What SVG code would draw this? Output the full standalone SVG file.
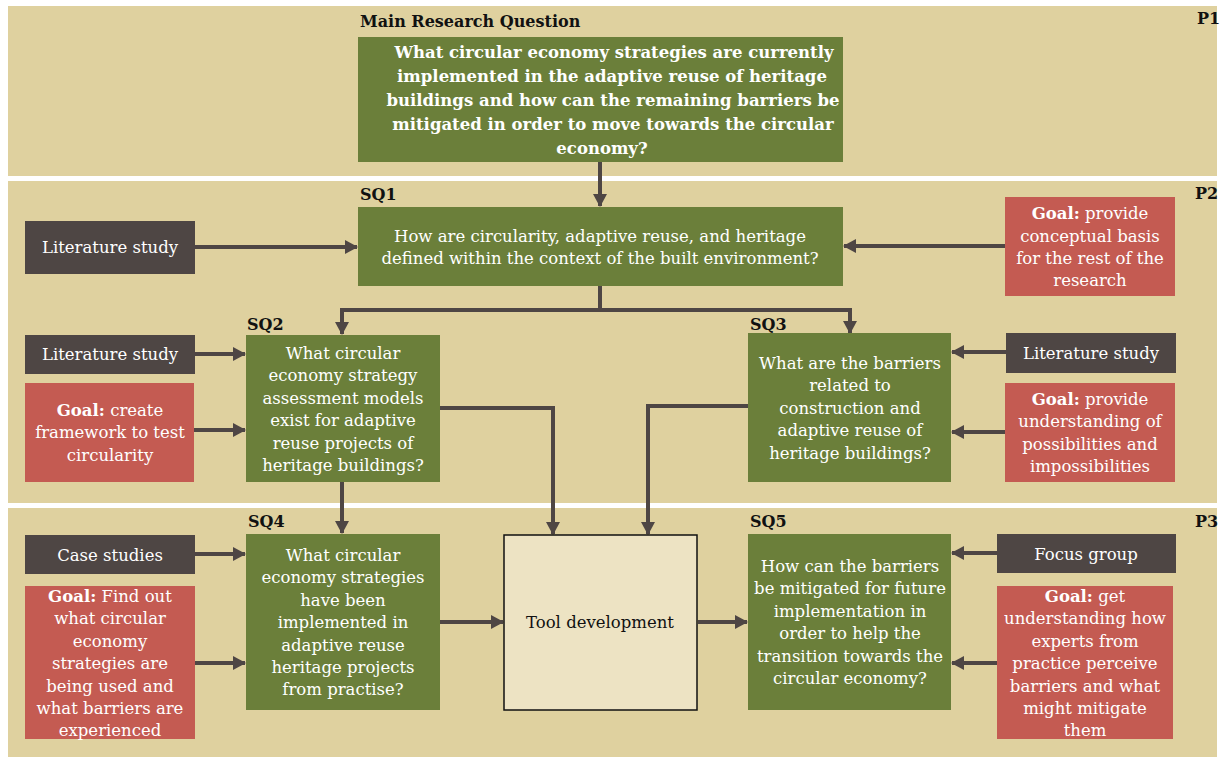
<svg xmlns="http://www.w3.org/2000/svg" width="1221" height="758" viewBox="0 0 1221 758">
  <defs>
    <marker id="arrow" markerUnits="userSpaceOnUse" markerWidth="14" markerHeight="14" refX="12" refY="7" orient="auto">
      <path d="M0,0 L13,7 L0,14 Z" fill="#4e4644"/>
    </marker>
  </defs>
  <style>
    text { font-family: "DejaVu Serif", "Liberation Serif", serif; }
    .panel { fill: #dfd19f; }
    .green { fill: #6b7f3a; }
    .dark { fill: #4e4644; }
    .red { fill: #c45b52; }
    .tool { fill: #ede3c3; stroke: #111; stroke-width: 1.5; }
    .wt { fill: #ffffff; font-size: 16.5px; text-anchor: middle; }
    .bt { fill: #ffffff; font-size: 16.5px; font-weight: bold; text-anchor: middle; }
    .lbl { fill: #111; font-size: 16px; font-weight: bold; }
    .blk { fill: #111; font-size: 16.5px; text-anchor: middle; }
    .b { font-weight: bold; }
    .conn { fill: none; stroke: #4e4644; stroke-width: 4; }
    .conn.a { marker-end: url(#arrow); }
  </style>

  <rect width="1221" height="758" fill="#ffffff"/>

  <!-- phase bands -->
  <g id="bands">
    <rect class="panel" x="8" y="6" width="1209" height="170"/>
    <rect class="panel" x="8" y="181" width="1209" height="322"/>
    <rect class="panel" x="8" y="508" width="1209" height="249"/>
    <text class="lbl" x="1197" y="24">P1</text>
    <text class="lbl" x="1195" y="199">P2</text>
    <text class="lbl" x="1195" y="527">P3</text>
  </g>

  <!-- connectors -->
  <g id="connectors">
    <path class="conn a" d="M600,162 V206"/>
    <path class="conn a" d="M195,247 H357"/>
    <path class="conn a" d="M1005,246 H844"/>
    <path class="conn" d="M600,286 V310 H342"/>
    <path class="conn a" d="M342,308 V334"/>
    <path class="conn a" d="M598,310 H850 V333"/>
    <path class="conn a" d="M195,354 H245"/>
    <path class="conn a" d="M194,430 H245"/>
    <path class="conn a" d="M1006,352 H952"/>
    <path class="conn a" d="M1005,432 H952"/>
    <path class="conn a" d="M440,408 H553 V534"/>
    <path class="conn a" d="M748,406 H648 V534"/>
    <path class="conn a" d="M342,482 V533"/>
    <path class="conn a" d="M195,554 H245"/>
    <path class="conn a" d="M195,663 H245"/>
    <path class="conn a" d="M440,622 H503"/>
    <path class="conn a" d="M698,622 H747"/>
    <path class="conn a" d="M997,553 H952"/>
    <path class="conn a" d="M997,663 H952"/>
  </g>

  <!-- main research question -->
  <g id="main-question">
    <text class="lbl" x="360" y="27">Main Research Question</text>
    <rect class="green" x="358" y="37" width="485" height="125"/>
    <text class="bt" x="614" y="58">What circular economy strategies are currently</text>
    <text class="bt" x="612" y="82">implemented in the adaptive reuse of heritage</text>
    <text class="bt" x="613" y="106">buildings and how can the remaining barriers be</text>
    <text class="bt" x="613" y="130">mitigated in order to move towards the circular</text>
    <text class="bt" x="602" y="154">economy?</text>
  </g>

  <!-- SQ1 -->
  <g id="sq1">
    <text class="lbl" x="360" y="200">SQ1</text>
    <rect class="green" x="358" y="207" width="485" height="79"/>
    <text class="wt" x="600" y="242">How are circularity, adaptive reuse, and heritage</text>
    <text class="wt" x="600" y="264">defined within the context of the built environment?</text>
  </g>
  <g id="sq1-method">
    <rect class="dark" x="25" y="221" width="170" height="53"/>
    <text class="wt" x="110" y="253">Literature study</text>
  </g>
  <g id="sq1-goal">
    <rect class="red" x="1005" y="197" width="170" height="99"/>
    <text class="wt" x="1090" y="219"><tspan class="b">Goal:</tspan> provide</text>
    <text class="wt" x="1090" y="242">conceptual basis</text>
    <text class="wt" x="1090" y="264">for the rest of the</text>
    <text class="wt" x="1090" y="286">research</text>
  </g>

  <!-- SQ2 -->
  <g id="sq2">
    <text class="lbl" x="247" y="330">SQ2</text>
    <rect class="green" x="246" y="335" width="194" height="147"/>
    <text class="wt" x="343" y="359">What circular</text>
    <text class="wt" x="343" y="381">economy strategy</text>
    <text class="wt" x="343" y="404">assessment models</text>
    <text class="wt" x="343" y="426">exist for adaptive</text>
    <text class="wt" x="343" y="449">reuse projects of</text>
    <text class="wt" x="343" y="471">heritage buildings?</text>
  </g>
  <g id="sq2-method">
    <rect class="dark" x="25" y="335" width="170" height="39"/>
    <text class="wt" x="110" y="360">Literature study</text>
  </g>
  <g id="sq2-goal">
    <rect class="red" x="25" y="383" width="169" height="99"/>
    <text class="wt" x="110" y="416"><tspan class="b">Goal:</tspan> create</text>
    <text class="wt" x="110" y="438">framework to test</text>
    <text class="wt" x="110" y="461">circularity</text>
  </g>

  <!-- SQ3 -->
  <g id="sq3">
    <text class="lbl" x="750" y="330">SQ3</text>
    <rect class="green" x="748" y="333" width="203" height="149"/>
    <text class="wt" x="850" y="369">What are the barriers</text>
    <text class="wt" x="850" y="391">related to</text>
    <text class="wt" x="850" y="414">construction and</text>
    <text class="wt" x="850" y="436">adaptive reuse of</text>
    <text class="wt" x="850" y="459">heritage buildings?</text>
  </g>
  <g id="sq3-method">
    <rect class="dark" x="1006" y="333" width="170" height="40"/>
    <text class="wt" x="1091" y="359">Literature study</text>
  </g>
  <g id="sq3-goal">
    <rect class="red" x="1005" y="383" width="170" height="99"/>
    <text class="wt" x="1090" y="405"><tspan class="b">Goal:</tspan> provide</text>
    <text class="wt" x="1090" y="427">understanding of</text>
    <text class="wt" x="1090" y="450">possibilities and</text>
    <text class="wt" x="1090" y="472">impossibilities</text>
  </g>

  <!-- SQ4 -->
  <g id="sq4">
    <text class="lbl" x="248" y="527">SQ4</text>
    <rect class="green" x="246" y="534" width="194" height="176"/>
    <text class="wt" x="343" y="561">What circular</text>
    <text class="wt" x="343" y="583">economy strategies</text>
    <text class="wt" x="343" y="606">have been</text>
    <text class="wt" x="343" y="628">implemented in</text>
    <text class="wt" x="343" y="651">adaptive reuse</text>
    <text class="wt" x="343" y="673">heritage projects</text>
    <text class="wt" x="343" y="695">from practise?</text>
  </g>
  <g id="sq4-method">
    <rect class="dark" x="25" y="535" width="170" height="39"/>
    <text class="wt" x="110" y="561">Case studies</text>
  </g>
  <g id="sq4-goal">
    <rect class="red" x="25" y="586" width="170" height="153"/>
    <text class="wt" x="110" y="602"><tspan class="b">Goal:</tspan> Find out</text>
    <text class="wt" x="110" y="624">what circular</text>
    <text class="wt" x="110" y="647">economy</text>
    <text class="wt" x="110" y="669">strategies are</text>
    <text class="wt" x="110" y="692">being used and</text>
    <text class="wt" x="110" y="714">what barriers are</text>
    <text class="wt" x="110" y="736">experienced</text>
  </g>

  <!-- tool development -->
  <g id="tool">
    <rect class="tool" x="504" y="535" width="193" height="175"/>
    <text class="blk" x="600" y="628">Tool development</text>
  </g>

  <!-- SQ5 -->
  <g id="sq5">
    <text class="lbl" x="750" y="527">SQ5</text>
    <rect class="green" x="748" y="534" width="203" height="176"/>
    <text class="wt" x="850" y="572">How can the barriers</text>
    <text class="wt" x="850" y="594">be mitigated for future</text>
    <text class="wt" x="850" y="617">implementation in</text>
    <text class="wt" x="850" y="639">order to help the</text>
    <text class="wt" x="850" y="662">transition towards the</text>
    <text class="wt" x="850" y="684">circular economy?</text>
  </g>
  <g id="sq5-method">
    <rect class="dark" x="997" y="534" width="179" height="39"/>
    <text class="wt" x="1086" y="560">Focus group</text>
  </g>
  <g id="sq5-goal">
    <rect class="red" x="997" y="586" width="176" height="153"/>
    <text class="wt" x="1085" y="602"><tspan class="b">Goal:</tspan> get</text>
    <text class="wt" x="1085" y="624">understanding how</text>
    <text class="wt" x="1085" y="647">experts from</text>
    <text class="wt" x="1085" y="669">practice perceive</text>
    <text class="wt" x="1085" y="692">barriers and what</text>
    <text class="wt" x="1085" y="714">might mitigate</text>
    <text class="wt" x="1085" y="736">them</text>
  </g>
</svg>
